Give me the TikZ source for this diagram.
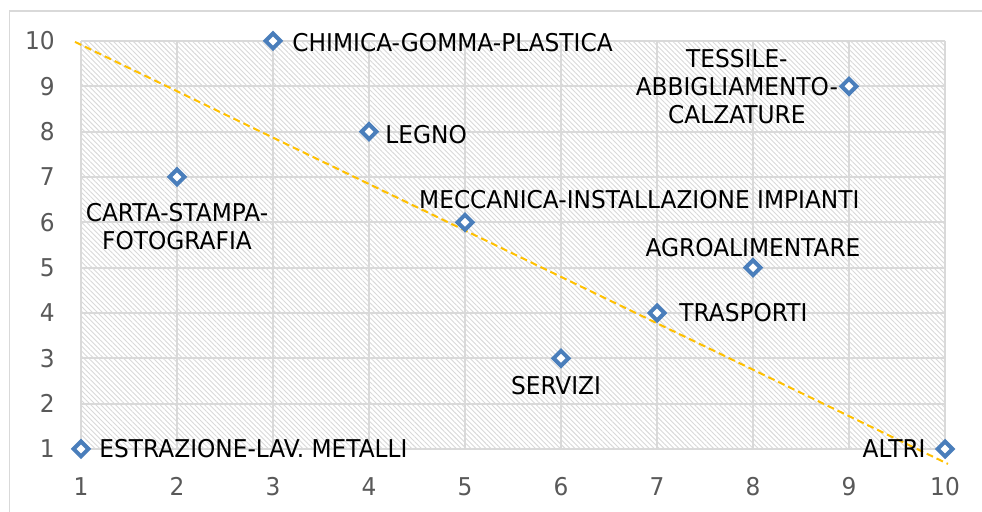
\documentclass[tikz,border=0pt]{standalone}
\usepackage{fontspec}
\setmainfont[FakeStretch=0.95]{DejaVu Sans}
\usepackage{tikz}
\usetikzlibrary{positioning,shapes.geometric,patterns.meta}
\definecolor{grigliagray}{HTML}{D9D9D9}
\definecolor{assegray}{HTML}{595959}
\definecolor{puntoblue}{HTML}{4A7EBB}
\definecolor{trendorange}{HTML}{FFC000}
\tikzset{
  punto/.style={diamond, draw=puntoblue, fill=white, line width=4pt, inner sep=0pt, minimum size=16.5pt},
  etich/.style={inner sep=0pt, align=center, font=\fontsize{24.5pt}{28pt}\selectfont},
  tacca/.style={inner sep=0pt, text=assegray, font=\fontsize{24.5pt}{28pt}\selectfont},
  griglia/.style={draw=grigliagray, line width=2pt},
  trend/.style={draw=trendorange, line width=2pt, dash pattern=on 7pt off 4pt},
}

\begin{document}
\begin{tikzpicture}[x=96pt, y=45.333pt]
   \useasboundingbox (0.15625,-0.38971) rectangle (10.38542,10.90441);
   % cornice del grafico
   \draw[draw=grigliagray, line width=1.5pt] (0.2552,-1) rectangle (11,10.662);

   % area del grafico, tratteggio e griglia
   \fill[white] (1,1) rectangle (10,10);
   \fill[pattern={Lines[angle=-45,distance=3.5pt,line width=0.9pt]}, pattern color=gray!30] (1,1) rectangle (10,10);
   \foreach \i in {1,...,10} {
     \draw[griglia] (\i,1) -- (\i,10);
     \draw[griglia] (1,\i) -- (10,\i);
   }

   % valori sugli assi
   \foreach \v in {1,...,10} {
     \node[tacca, anchor=east] (ty\v) at (0.729,\v) {\v};
     \node[tacca] (tx\v) at (\v,0.1728) {\v};
   }

   % linea di tendenza
   \coordinate (tInizio) at (0.9375,9.98);
   \coordinate (tFine) at (10.031,0.67);
   \draw[trend] (tInizio) -- (tFine);

   % punti
   \node[punto] (estr) at (1,1) {};
   \node[punto] (carta) at (2,7) {};
   \node[punto] (chim) at (3,10) {};
   \node[punto] (legno) at (4,8) {};
   \node[punto] (mecc) at (5,6) {};
   \node[punto] (serv) at (6,3) {};
   \node[punto] (trasp) at (7,4) {};
   \node[punto] (agro) at (8,5) {};
   \node[punto] (tess) at (9,9) {};
   \node[punto] (altri) at (10,1) {};

   % etichette
   \node[etich, right=8pt of estr] (lEstr) {ESTRAZIONE-LAV. METALLI};
   \node[etich, below=16pt of carta] (lCarta) {CARTA-STAMPA-\\FOTOGRAFIA};
   \node[etich, right=9pt of chim, yshift=-1.5pt] (lChim) {CHIMICA-GOMMA-PLASTICA};
   \node[etich, right=6pt of legno, yshift=-3pt] (lLegno) {LEGNO};
   \node[etich, above=3pt of mecc, anchor=south west, xshift=-46pt] (lMecc) {MECCANICA-INSTALLAZIONE IMPIANTI};
   \node[etich, below=8pt of serv, xshift=-5pt] (lServ) {SERVIZI};
   \node[etich, right=12pt of trasp] (lTrasp) {TRASPORTI};
   \node[etich, above=0.5pt of agro] (lAgro) {AGROALIMENTARE};
   \node[etich, left=0.5pt of tess] (lTess) {TESSILE-\\ABBIGLIAMENTO-\\CALZATURE};
   \node[etich, left=9pt of altri] (lAltri) {ALTRI};
\end{tikzpicture}
\end{document}
